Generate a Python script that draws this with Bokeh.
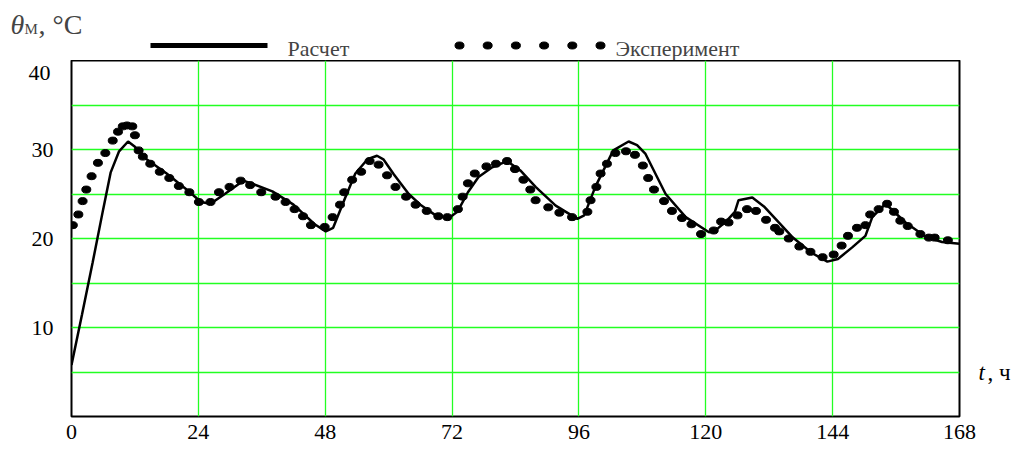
from bokeh.plotting import figure
from bokeh.models import Range1d, FixedTicker, Label, LinearAxis
from bokeh.embed import file_html
from bokeh.resources import INLINE

# ---------------- data ----------------
calc_t = [0, 2, 4, 6, 7.4, 9, 10.7, 12, 14, 18, 22, 24.5, 26.3, 29, 32.5, 34, 38, 42, 46,
          48.1, 49.5, 51.8, 53.7, 56, 57.8, 59, 61, 63.8, 66, 68.9, 71.4, 73, 75, 77,
          79.6, 82.4, 85, 87.8, 91.6, 95.7, 97, 99.1, 102.5, 105.4, 107, 108.6, 112.4,
          116.2, 120.6, 122, 124, 125.5, 126.2, 128.8, 131, 136.3, 140, 143, 145, 147.7,
          150.2, 151.5, 154.0, 157.8, 161.6, 164.7, 168]
calc_T = [5.8, 11.5, 17.3, 23.3, 27.4, 29.8, 30.9, 30.3, 29.0, 27.3, 25.4, 24.1, 23.9, 25.0,
          26.5, 26.2, 25.3, 23.8, 21.6, 20.8, 21.2, 24.6, 27.3, 28.9, 29.3, 28.9, 27.2,
          25.0, 23.8, 22.6, 22.3, 23.0, 25.2, 26.9, 28.0, 28.7, 27.6, 25.8, 23.7, 22.2,
          22.6, 25.8, 29.9, 30.9, 30.5, 29.5, 25.0, 22.4, 20.7, 21.0, 22.0, 23.0, 24.3,
          24.6, 23.6, 20.2, 18.4, 17.4, 17.7, 19.0, 20.3, 22.4, 23.9, 21.8, 20.2, 19.6,
          19.4]

exp_t = [0.25, 1.3, 2.1, 2.8, 3.8, 5.0, 6.4, 7.8, 8.8, 9.7, 10.5, 11.5, 12.0, 12.7, 13.5,
         14.9, 16.7, 18.5, 20.3, 22.3, 24.1, 26.3, 27.9, 29.9, 32.0, 33.8, 35.9, 38.6,
         40.5, 42.2, 43.8, 45.3, 47.9, 49.4, 50.8, 51.6, 53.1, 54.8, 56.4, 58.1, 59.7,
         61.3, 63.3, 65.1, 67.2, 69.4, 71.1, 73.1, 74.0, 75.0, 76.3, 78.5, 80.3, 82.4,
         83.9, 85.5, 86.8, 87.8, 90.2, 92.3, 94.7, 97.6, 98.2, 99.3, 100.1, 101.3,
         102.9, 104.9, 106.6, 108.1, 109.1, 110.2, 112.1, 113.6, 115.5, 117.3, 119.1,
         121.5, 122.9, 124.3, 126.0, 127.8, 129.5, 131.4, 133.1, 133.9, 135.7, 137.7,
         139.8, 142.1, 144.2, 145.7, 146.9, 148.6, 150.2, 151.1, 152.7, 154.3, 155.6,
         156.8, 158.2, 160.6, 162.2, 163.3, 165.8]
exp_T = [21.5, 22.7, 24.2, 25.5, 27.0, 28.5, 29.6, 31.0, 32.0, 32.6, 32.7, 32.6, 31.6, 29.9,
         29.2, 28.4, 27.5, 26.8, 25.9, 25.2, 24.1, 24.1, 25.2, 25.8, 26.5, 26.0, 25.2,
         24.7, 24.1, 23.3, 22.5, 21.5, 21.3, 22.4, 23.8, 25.2, 26.6, 27.5, 28.7, 28.3,
         27.1, 25.8, 24.7, 23.8, 23.1, 22.5, 22.4, 23.3, 24.7, 26.2, 27.3, 28.1, 28.4,
         28.7, 27.8, 26.6, 25.5, 24.3, 23.5, 22.9, 22.4, 23.0, 24.3, 25.8, 27.3, 28.4,
         29.6, 29.8, 29.4, 28.2, 26.8, 25.5, 24.2, 23.1, 22.3, 21.6, 20.5, 20.9, 21.9,
         21.8, 22.6, 23.3, 23.1, 22.1, 21.2, 20.8, 20.0, 19.1, 18.5, 17.9, 18.2, 19.2,
         20.3, 21.2, 21.5, 22.7, 23.3, 23.9, 23.0, 22.0, 21.4, 20.5, 20.1, 20.1, 19.8]

x_ticks = [0, 24, 48, 72, 96, 120, 144, 168]
y_ticks = [10, 20, 30]
y_top_label = "40"
y_top_label_at = 38.65     # the original prints "40" just under the frame top
y_grid = [5, 10, 15, 20, 25, 30, 35]
x_grid = [24, 48, 72, 96, 120, 144]

series_names = ["Расчет", "Эксперимент"]
x_title = ["t", ", ч"]
y_title = ["θ", "М", ", °C"]
x_title_at = 5

FONT = "Liberation Serif"
GREEN = "#22ff22"
W = 1025
H_TOP = 60
H_MAIN = 449 - H_TOP

# ---------------- header figure (axis title + legend), coordinates = pixels ----------------
top = figure(width=W, height=H_TOP, x_range=Range1d(0, W), y_range=Range1d(H_TOP, 0),
             x_axis_type=None, y_axis_type=None, toolbar_location=None,
             output_backend="svg", min_border=0, title=None, outline_line_color=None)
top.grid.visible = False

top.add_layout(Label(x=10, y=23.5, text=y_title[0], text_font=FONT, text_font_size="28px",
                     text_font_style="italic", text_baseline="middle"))
top.add_layout(Label(x=24, y=28, text=y_title[1], text_font=FONT, text_font_size="15px",
                     text_baseline="middle"))
top.add_layout(Label(x=38, y=23.5, text=y_title[2], text_font=FONT, text_font_size="28px",
                     text_baseline="middle"))

# legend: line sample
top.line(x=[150, 267], y=[45, 45], line_width=5, line_color="black")
top.add_layout(Label(x=287, y=47.5, text=series_names[0], text_font=FONT,
                     text_font_size="22px", text_baseline="middle"))
# legend: dotted sample
leg_x = [459 + 28.2 * i for i in range(6)]
top.ellipse(x=leg_x, y=[45] * 6, width=9, height=7, width_units="screen",
            height_units="screen", fill_color="black", line_color="black")
top.add_layout(Label(x=615, y=47.5, text=series_names[1], text_font=FONT,
                     text_font_size="22px", text_baseline="middle"))

# ---------------- main figure ----------------
p = figure(width=W, height=H_MAIN, x_range=Range1d(0, 168), y_range=Range1d(0, 40),
           toolbar_location=None, output_backend="svg", title=None,
           min_border_left=71, min_border_right=66, min_border_top=0, min_border_bottom=33)

p.outline_line_color = "black"
p.outline_line_width = 2

# outer left axis for the top tick label
p.add_layout(LinearAxis(ticker=FixedTicker(ticks=[y_top_label_at]),
                        major_label_overrides={y_top_label_at: y_top_label}), "left")
# right axes carrying the x-axis title "t, ч" at T = 5
p.add_layout(LinearAxis(ticker=FixedTicker(ticks=[x_title_at]),
                        major_label_overrides={x_title_at: x_title[0]}), "right")
p.add_layout(LinearAxis(ticker=FixedTicker(ticks=[x_title_at]),
                        major_label_overrides={x_title_at: x_title[1]}), "right")

for ax in p.axis:
    ax.axis_line_color = None
    ax.major_tick_line_color = None
    ax.minor_tick_line_color = None
    ax.major_tick_in = 0
    ax.major_tick_out = 0
    ax.minor_tick_in = 0
    ax.minor_tick_out = 0
    ax.major_label_text_font = FONT
    ax.major_label_text_font_size = "22px"
    ax.major_label_text_color = "black"

xa = p.below[0]
ya_in, ya_out = p.left[0], p.left[1]
ra1, ra2 = p.right[0], p.right[1]

xa.ticker = FixedTicker(ticks=x_ticks)
xa.major_label_standoff = 8
ya_in.ticker = FixedTicker(ticks=y_ticks)
ya_in.major_label_standoff = 18
ya_out.major_label_standoff = -22

ra1.major_label_text_font_style = "italic"
ra1.major_label_text_font_size = "23px"
ra1.major_label_standoff = 19
ra1.major_label_text_align = "left"
ra2.major_label_text_font_size = "23px"
ra2.major_label_standoff = 0
ra2.major_label_text_align = "left"

p.xgrid.ticker = FixedTicker(ticks=x_grid)
p.ygrid.ticker = FixedTicker(ticks=y_grid)
for g in (p.xgrid, p.ygrid):
    g.grid_line_color = GREEN
    g.grid_line_width = 1.3

p.line(calc_t, calc_T, line_width=2.5, line_color="black")
p.ellipse(x=exp_t, y=exp_T, width=9, height=7, width_units="screen",
          height_units="screen", fill_color="black", line_color="black")

open("out.html", "w").write(file_html([top, p], INLINE))
